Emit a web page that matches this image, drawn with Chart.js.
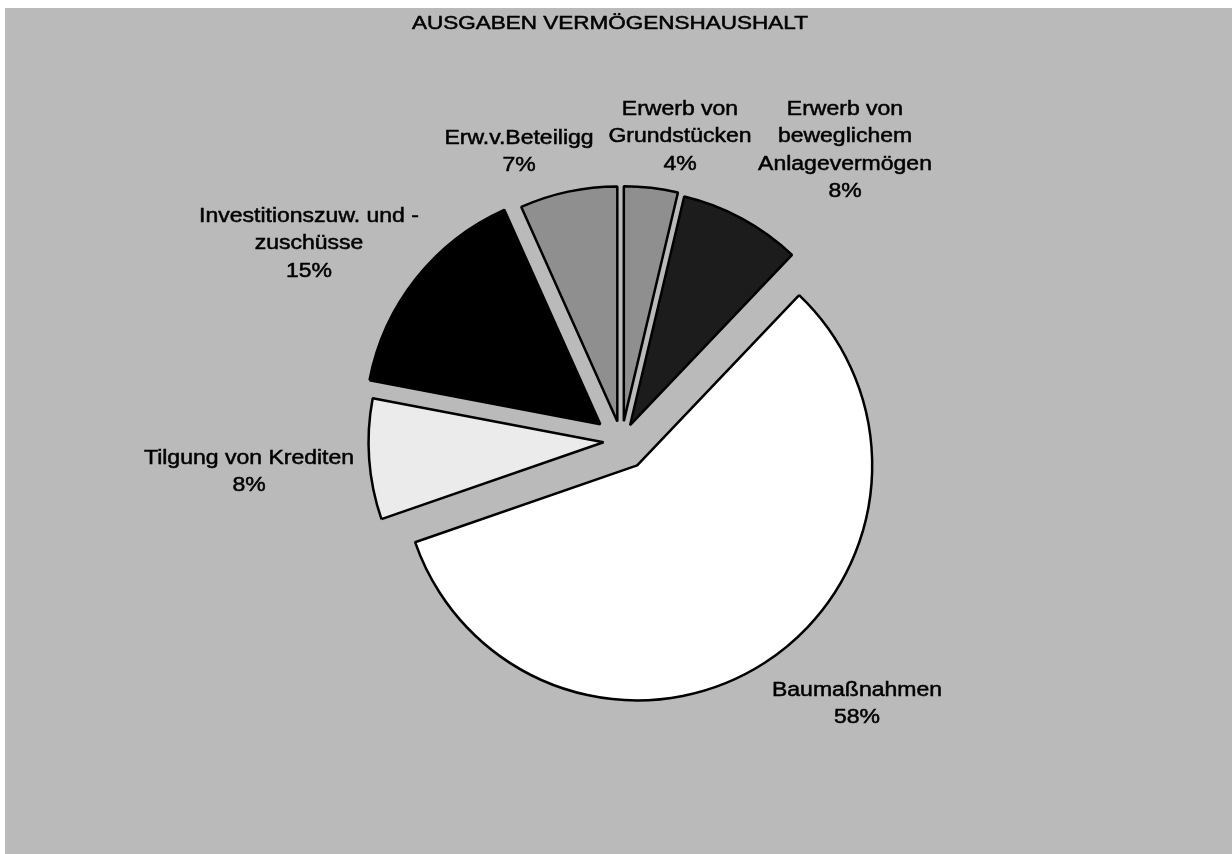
<!DOCTYPE html>
<html>
<head>
<meta charset="utf-8">
<title>Ausgaben Vermögenshaushalt</title>
<script src="https://cdn.jsdelivr.net/npm/chart.js@4.4.1/dist/chart.umd.min.js"></script>
<style>
  body { margin: 0; background: #fff; }
  #pie { position: absolute; left: 5px; top: 8px; background: #bababa; }
</style>
</head>
<body>
<canvas id="pie" width="1227" height="846"></canvas>
<script>
// data, clockwise from 12 o'clock (shares in %)
const categories = ['Erwerb von Grundstücken', 'Erwerb von beweglichem Anlagevermögen', 'Baumaßnahmen',
    'Tilgung von Krediten', 'Investitionszuw. und -zuschüsse', 'Erw.v.Beteiligg'];
const labelLines = [
    ['Erwerb von', 'Grundstücken'],
    ['Erwerb von', 'beweglichem', 'Anlagevermögen'],
    ['Baumaßnahmen'],
    ['Tilgung von Krediten'],
    ['Investitionszuw. und -', 'zuschüsse'],
    ['Erw.v.Beteiligg']
];
const shares = [3.7, 8.4, 57.6, 8.3, 15.3, 6.7];
const chartTitle = 'AUSGABEN VERMÖGENSHAUSHALT';

// look
const fills = ['#8f8f8f', '#1c1c1c', '#ffffff', '#ebebeb', '#000000', '#8f8f8f'];
// how far each slice is pulled out (px), like excel does it: move the whole slice, keep the radius
const explode = [20, 18, 29, 18, 27, 20];
// where each label block starts (canvas px, centre of first line)
const labelPos = [[675, 101], [840, 101], [852, 682], [244, 450], [304, 208], [514, 130]];
const lineGap = 27.5;
const stretch = 1.15;

const total = shares.reduce((a, b) => a + b, 0);

function stretchedText(ctx, txt, x, y, sx) {
    ctx.save();
    ctx.translate(x, y);
    ctx.scale(sx, 1);
    ctx.strokeText(txt, 0, 0);
    ctx.fillText(txt, 0, 0);
    ctx.restore();
}

// shift every arc along its mid angle after chart.js has laid them out
const explodeSlices = {
    id: 'explodeSlices',
    afterDatasetUpdate(chart, args) {
        args.meta.data.forEach((arc, i) => {
            const mid = (arc.startAngle + arc.endAngle) / 2;
            arc.x += Math.cos(mid) * explode[i];
            arc.y += Math.sin(mid) * explode[i];
        });
    }
};

const pieLabels = {
    id: 'pieLabels',
    afterDraw(chart) {
        const ctx = chart.ctx;
        ctx.save();
        ctx.fillStyle = '#000';
        ctx.strokeStyle = '#000';
        ctx.lineWidth = 0.5;
        ctx.textAlign = 'center';
        ctx.textBaseline = 'middle';
        ctx.font = '20px "Liberation Sans", Arial, sans-serif';
        labelLines.forEach((lines, i) => {
            const pct = Math.round(shares[i] / total * 100) + '%';
            const all = lines.concat([pct]);
            all.forEach((t, k) => {
                stretchedText(ctx, t, labelPos[i][0], labelPos[i][1] + k * lineGap, stretch);
            });
        });
        ctx.font = '18px "Liberation Sans", Arial, sans-serif';
        stretchedText(ctx, chartTitle, 605, 16, 1.25);
        ctx.restore();
    }
};

const ctx = document.getElementById('pie');
const pieChart = new Chart(ctx, {
    type: 'pie',
    data: {
        labels: categories,
        datasets: [{
            data: shares,
            backgroundColor: fills,
            borderColor: '#000',
            borderWidth: 2.5,
            offset: 0,
            hoverOffset: 0,
            radius: 235,
            clip: false
        }]
    },
    options: {
        responsive: false,
        devicePixelRatio: 1,
        animation: false,
        events: [],
        layout: { padding: { left: 6, right: 0, top: 20, bottom: 0 } },
        plugins: {
            legend: { display: false },
            title: { display: false },
            tooltip: { enabled: false }
        }
    },
    plugins: [explodeSlices, pieLabels]
});
</script>
</body>
</html>
